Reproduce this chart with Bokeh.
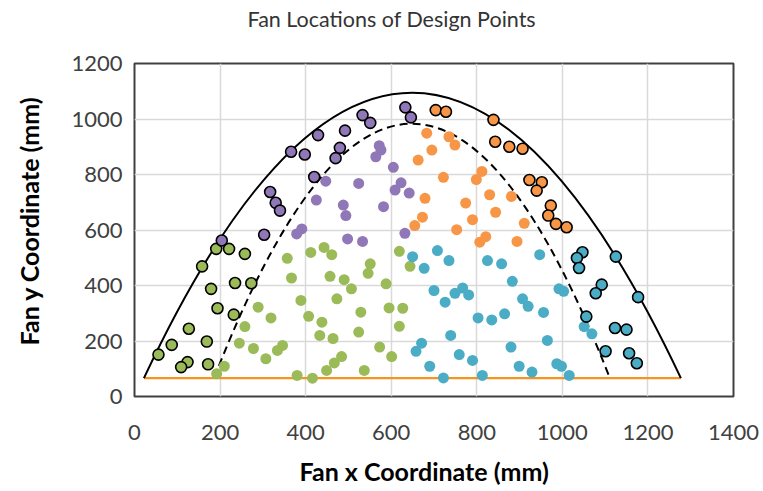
from bokeh.plotting import figure
from bokeh.embed import file_html
from bokeh.resources import INLINE
from bokeh.models import Range1d, FixedTicker, Title

# ---- data -------------------------------------------------------------
x_ticks = [0, 200, 400, 600, 800, 1000, 1200, 1400]
y_ticks = [0, 200, 400, 600, 800, 1000, 1200]

green_out_x = [191, 221, 258, 158, 179, 235, 273, 194, 232, 127, 169, 87, 56, 124, 109, 172]
green_out_y = [532, 532, 514, 469, 388, 409, 408, 318, 295, 244, 198, 186, 151, 124, 106, 116]

green_in_x = [357, 412, 443, 461, 367, 457, 490, 389, 473, 289, 319, 407, 258, 438, 433, 464,
              245, 278, 334, 346, 307, 484, 467, 449, 210, 192, 380, 416, 551, 546, 507, 588,
              619, 644, 529, 595, 627, 619, 524, 573, 601, 537]
green_in_y = [498, 519, 537, 511, 427, 433, 421, 346, 352, 322, 283, 289, 252, 268, 220, 209,
              192, 173, 166, 184, 136, 144, 121, 94, 109, 82, 76, 66, 478, 444, 388, 406,
              523, 469, 304, 319, 318, 253, 232, 178, 144, 94]

purple_out_x = [429, 492, 366, 398, 480, 470, 420, 317, 330, 340, 633, 646, 533, 551, 303, 204]
purple_out_y = [942, 958, 882, 872, 896, 859, 791, 737, 698, 670, 1042, 1006, 1014, 986, 583, 562]

purple_in_x = [447, 425, 488, 572, 576, 564, 605, 524, 623, 609, 642, 582, 379, 391, 494, 498,
               533, 632]
purple_in_y = [776, 708, 690, 904, 888, 864, 826, 768, 770, 744, 733, 684, 586, 604, 652, 568,
               559, 588]

orange_out_x = [704, 728, 839, 843, 876, 907, 923, 952, 940, 973, 967, 985, 1010]
orange_out_y = [1032, 1026, 997, 918, 900, 893, 780, 772, 742, 688, 652, 622, 610]

orange_in_x = [683, 735, 749, 695, 663, 722, 812, 799, 830, 881, 679, 774, 673, 655, 753, 790,
               844, 911, 821, 807, 894]
orange_in_y = [949, 936, 906, 888, 852, 790, 811, 782, 727, 721, 714, 697, 646, 616, 601, 637,
               664, 624, 576, 556, 559]

blue_out_x = [1047, 1034, 1039, 1125, 1092, 1078, 1177, 1056, 1123, 1150, 1101, 1156, 1174]
blue_out_y = [520, 499, 463, 504, 403, 372, 358, 288, 247, 241, 163, 156, 120]

blue_in_x = [650, 708, 735, 677, 825, 858, 947, 883, 700, 749, 767, 781, 726, 907, 920, 803,
             835, 865, 956, 739, 671, 658, 759, 790, 880, 690, 899, 929, 722, 813, 965, 992,
             1003, 1051, 1069, 987, 998, 1016]
blue_in_y = [504, 526, 490, 462, 490, 478, 511, 415, 382, 372, 391, 366, 340, 352, 325, 283,
             276, 298, 303, 220, 192, 163, 151, 130, 178, 109, 109, 88, 67, 76, 202, 388,
             379, 252, 226, 118, 109, 76]

# boundary curves: (start x, end x, base y, apex x, apex y)
outer_curve = dict(x0=22, x1=1277, base=66, apex_x=648, apex_y=1095)
inner_curve = dict(x0=186, x1=1111, base=66, apex_x=648, apex_y=983)
floor_x = [22, 1277]
floor_y = [66, 66]

GREEN = "#9BBB59"
PURPLE = "#9077B7"
ORANGE = "#F79646"
BLUE = "#4BACC6"
TEXT = "#404040"
FONT = "Lato"

# ---- figure -----------------------------------------------------------
p = figure(width=763, height=491, output_backend="svg", toolbar_location=None,
           x_range=Range1d(0, 1400), y_range=Range1d(0, 1200),
           min_border_left=134, min_border_right=30, min_border_top=63,
           min_border_bottom=95)

p.outline_line_color = "#404040"
p.outline_line_width = 2
p.background_fill_color = "white"
p.border_fill_color = "white"

for ax in (p.xaxis[0], p.yaxis[0]):
    ax.axis_line_color = None
    ax.major_tick_line_color = None
    ax.minor_tick_line_color = None
    ax.major_label_text_font = FONT
    ax.major_label_text_font_size = "22px"
    ax.major_label_text_color = TEXT

p.xaxis.ticker = FixedTicker(ticks=x_ticks)
p.yaxis.ticker = FixedTicker(ticks=y_ticks)
p.xaxis.major_label_standoff = 22
p.yaxis.major_label_standoff = 6

p.grid.grid_line_color = "#d9d9d9"
p.grid.grid_line_width = 1.5


def spacer(size):
    # blank title used only to open a gap between a panel and the next title
    return Title(text=" ", text_font_size=size, standoff=0)


# chart title (spacer first so the title sits further from the frame)
p.add_layout(spacer("26px"), "above")
p.add_layout(Title(text="Fan Locations of Design Points", text_font=FONT,
                   text_font_size="21.5px", text_font_style="normal", text_color="#333333",
                   align="left", offset=113, standoff=0), "above")

# axis titles
p.add_layout(spacer("8px"), "below")
p.add_layout(Title(text="Fan x Coordinate (mm)", text_font=FONT, text_font_size="25px",
                   text_font_style="bold", text_color="black",
                   align="left", offset=165, standoff=0), "below")
p.add_layout(spacer("21px"), "left")
p.add_layout(Title(text="Fan y Coordinate (mm)", text_font=FONT, text_font_size="25px",
                   text_font_style="bold", text_color="black",
                   align="left", offset=51, standoff=0), "left")

# floor line and the two parabolic boundaries (quadratic Bezier: control y = 2*apex - base)
p.line(floor_x, floor_y, line_color="#F7941D", line_width=2.2)
for c, dash in ((outer_curve, "solid"), (inner_curve, "8 5")):
    p.quadratic(x0=[c["x0"]], y0=[c["base"]], x1=[c["x1"]], y1=[c["base"]],
                cx=[c["apex_x"]], cy=[2 * c["apex_y"] - c["base"]],
                line_color="black", line_width=2, line_dash=dash)

# design points
for xs, ys, col in ((green_in_x, green_in_y, GREEN), (purple_in_x, purple_in_y, PURPLE),
                    (orange_in_x, orange_in_y, ORANGE), (blue_in_x, blue_in_y, BLUE)):
    p.scatter(xs, ys, size=11, fill_color=col, line_color=None)

for xs, ys, col in ((green_out_x, green_out_y, GREEN), (purple_out_x, purple_out_y, PURPLE),
                    (orange_out_x, orange_out_y, ORANGE), (blue_out_x, blue_out_y, BLUE)):
    p.scatter(xs, ys, size=11, fill_color=col, line_color="black", line_width=1.6)

open("out.html", "w").write(file_html(p, INLINE))
